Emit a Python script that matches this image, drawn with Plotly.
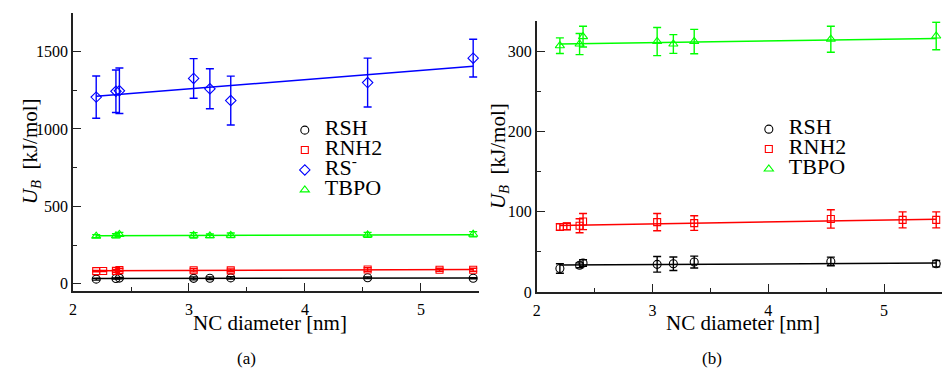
import plotly.graph_objects as go
from plotly.subplots import make_subplots

# ---------------- data ----------------
x_rsh = [2.2, 2.37, 2.4, 3.04, 3.18, 3.36, 4.54, 5.45]
ub_rsh = [29.2, 33.2, 36.1, 34.4, 35.2, 37.3, 38.0, 35.2]
err_rsh = [6, 3, 4, 9.7, 8.4, 7.4, 5.4, 4]

x_rnh2 = [2.2, 2.26, 2.37, 2.4, 3.04, 3.36, 4.54, 5.16, 5.45]
ub_rnh2 = [81.0, 81.8, 82.6, 87.8, 87.1, 85.9, 91.1, 89.9, 89.9]
err_rnh2 = [4, 4, 8.7, 10, 10.7, 9.1, 11.5, 10, 10]

x_rs = [2.2, 2.37, 2.4, 3.04, 3.18, 3.36, 4.54, 5.45]
ub_rs = [1206, 1244, 1247, 1327, 1260, 1184, 1300, 1458]
err_rs = [137, 137, 147, 128, 129, 158, 158, 122]

x_tbpo = [2.2, 2.37, 2.4, 3.04, 3.18, 3.36, 4.54, 5.45]
ub_tbpo = [307.4, 309.5, 318.7, 312.6, 309.5, 312.6, 315.5, 319.5]
err_tbpo = [9.7, 13.2, 13, 17.6, 11.7, 15.2, 16.2, 17.2]

# linear-fit end points
fit_x = [2.2, 5.45]
fit_rsh = [33.5, 36.0]
fit_rnh2 = [83.0, 90.8]
fit_rs = [1212, 1405]
fit_tbpo = [309.5, 316.5]

x_ticks = [2, 3, 4, 5]
y_ticks_a = [0, 500, 1000, 1500]
y_ticks_b = [0, 100, 200, 300]

# ---------------- styling ----------------
W, H = 942, 379
FONT = "Liberation Serif, Times New Roman, Times, serif"
BLACK, RED, BLUE, GREEN = "#000000", "#ff0000", "#0000ff", "#00ff00"

series_a = [
    ("RSH", x_rsh, ub_rsh, err_rsh, fit_rsh, BLACK, "circle-open", 8),
    ("RNH2", x_rnh2, ub_rnh2, err_rnh2, fit_rnh2, RED, "square-open", 7),
    ("RS<sup>-</sup>", x_rs, ub_rs, err_rs, fit_rs, BLUE, "diamond-open", 8),
    ("TBPO", x_tbpo, ub_tbpo, err_tbpo, fit_tbpo, GREEN, "triangle-up-open", 8),
]
series_b = [s for s in series_a if s[5] != BLUE]

fig = make_subplots(rows=1, cols=2)


def add_series(series, col, legend):
    for name, xs, ys, es, fit, color, sym, size in series:
        fig.add_trace(go.Scatter(
            x=fit_x, y=fit, mode="lines", line=dict(color=color, width=1.5),
            showlegend=False, hoverinfo="skip"), row=1, col=col)
    for name, xs, ys, es, fit, color, sym, size in series:
        fig.add_trace(go.Scatter(
            x=xs, y=ys, mode="markers",
            name='<span style="font-size:22px">' + name + '</span>',
            marker=dict(symbol=sym, size=size, color=color,
                        line=dict(color=color, width=1.1)),
            error_y=dict(type="data", array=es, visible=True, color=color,
                         thickness=1.4, width=4),
            legend=legend), row=1, col=col)


add_series(series_a, 1, "legend")
add_series(series_b, 2, "legend2")

axis_common = dict(showline=True, linecolor="#222222", linewidth=1.6,
                   ticks="inside", ticklen=8, tickwidth=1.3, tickcolor="#222222",
                   showgrid=False, zeroline=False, mirror=False,
                   tickfont=dict(family=FONT, size=16, color="#000000"))

fig.update_xaxes(**axis_common, range=[2, 5.5], tickvals=x_ticks,
                 ticklabelstandoff=3,
                 minor=dict(ticks="inside", ticklen=4, dtick=0.5, tick0=2,
                            tickcolor="#222222", tickwidth=1.3))
fig.update_xaxes(domain=[69.3 / W, 477 / W], row=1, col=1)
fig.update_xaxes(domain=[535 / W, 1.0], row=1, col=2)

fig.update_yaxes(**axis_common)
fig.update_yaxes(domain=[1 - 297.7 / H, 1 - 13.3 / H], range=[-45, 1750],
                 tickvals=y_ticks_a,
                 minor=dict(ticks="inside", ticklen=4, dtick=250, tick0=0,
                            tickcolor="#222222", tickwidth=1.3),
                 row=1, col=1)
fig.update_yaxes(domain=[1 - 299 / H, 1 - 21.7 / H], range=[0, 338],
                 tickvals=y_ticks_b,
                 minor=dict(ticks="inside", ticklen=4, dtick=50, tick0=0,
                            tickcolor="#222222", tickwidth=1.3),
                 row=1, col=2)

legend_common = dict(bgcolor="rgba(0,0,0,0)", borderwidth=0,
                     font=dict(family=FONT, size=13, color="#000000"),
                     xanchor="left", yanchor="top", tracegroupgap=0,
                     itemclick=False)

ytitle = "<i>U</i><sub><i>B</i></sub>  [kJ/mol]"
xtitle = "NC diameter [nm]"
annotations = [
    dict(x=27 / W, y=1 - 155 / H, text=ytitle, textangle=-90),
    dict(x=497 / W, y=1 - 160 / H, text=ytitle, textangle=-90),
    dict(x=267 / W, y=1 - 331 / H, text=xtitle),
    dict(x=742 / W, y=1 - 331 / H, text=xtitle),
    dict(x=244 / W, y=1 - 367 / H, text="(a)", font=dict(family=FONT, size=17, color="#000000")),
    dict(x=711 / W, y=1 - 367 / H, text="(b)", font=dict(family=FONT, size=17, color="#000000")),
]
for a in annotations:
    a.setdefault("font", dict(family=FONT, size=21, color="#000000"))
    a.update(xref="paper", yref="paper", showarrow=False,
             xanchor="center", yanchor="middle")

fig.update_layout(
    width=W, height=H,
    margin=dict(l=0, r=0, t=0, b=0),
    paper_bgcolor="#ffffff", plot_bgcolor="#ffffff",
    font=dict(family=FONT, color="#000000"),
    legend=dict(**legend_common, x=282 / W, y=1 - 118 / H),
    legend2=dict(**legend_common, x=748 / W, y=1 - 117 / H),
    annotations=annotations,
)

fig.write_html(
    "out.html",
    config={"displayModeBar": False},
    post_script="document.body.style.margin='0';document.body.style.overflow='hidden';",
)
